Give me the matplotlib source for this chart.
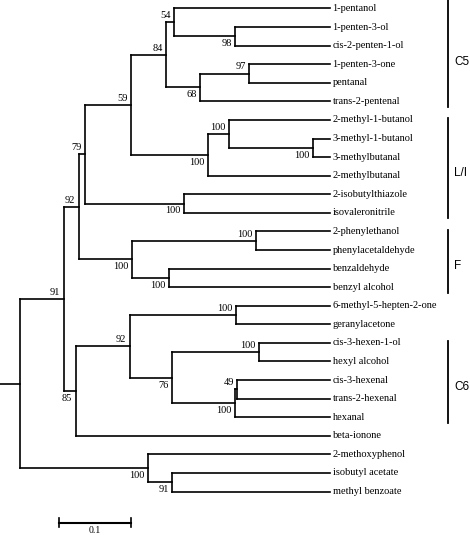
import numpy as np
import matplotlib
matplotlib.use('Agg')
from matplotlib import pyplot as plt

# leaves, top to bottom
leaves = ['1-pentanol', '1-penten-3-ol', 'cis-2-penten-1-ol', '1-penten-3-one',
          'pentanal', 'trans-2-pentenal', '2-methyl-1-butanol', '3-methyl-1-butanol',
          '3-methylbutanal', '2-methylbutanal', '2-isobutylthiazole', 'isovaleronitrile',
          '2-phenylethanol', 'phenylacetaldehyde', 'benzaldehyde', 'benzyl alcohol',
          '6-methyl-5-hepten-2-one', 'geranylacetone', 'cis-3-hexen-1-ol', 'hexyl alcohol',
          'cis-3-hexenal', 'trans-2-hexenal', 'hexanal', 'beta-ionone',
          '2-methoxyphenol', 'isobutyl acetate', 'methyl benzoate']
tip_depth = 0.432

# internal nodes: children (upper, lower), distance from root, bootstrap
node_ids = ['n98', 'n54', 'n97', 'n68', 'n84', 'n313', 'n229', 'n208', 'n59', 'n184',
            'n79', 'nF1', 'nF2', 'nF', 'n92', 'nhept', 'nhexol', 'n49', 'n100b', 'n76',
            'n92b', 'n85', 'n91', 'n91b', 'nog', 'root']
node_children = [
    ('1-penten-3-ol', 'cis-2-penten-1-ol'), ('1-pentanol', 'n98'),
    ('1-penten-3-one', 'pentanal'), ('n97', 'trans-2-pentenal'), ('n54', 'n68'),
    ('3-methyl-1-butanol', '3-methylbutanal'), ('2-methyl-1-butanol', 'n313'),
    ('n229', '2-methylbutanal'), ('n84', 'n208'),
    ('2-isobutylthiazole', 'isovaleronitrile'), ('n59', 'n184'),
    ('2-phenylethanol', 'phenylacetaldehyde'), ('benzaldehyde', 'benzyl alcohol'),
    ('nF1', 'nF2'), ('n79', 'nF'), ('6-methyl-5-hepten-2-one', 'geranylacetone'),
    ('cis-3-hexen-1-ol', 'hexyl alcohol'), ('cis-3-hexenal', 'trans-2-hexenal'),
    ('n49', 'hexanal'), ('nhexol', 'n100b'), ('nhept', 'n76'), ('n92b', 'beta-ionone'),
    ('n92', 'n85'), ('isobutyl acetate', 'methyl benzoate'), ('2-methoxyphenol', 'n91b'),
    ('n91', 'nog')]
node_depth = [0.300, 0.215, 0.320, 0.251, 0.204, 0.409, 0.291, 0.262, 0.155, 0.229,
              0.091, 0.329, 0.208, 0.156, 0.082, 0.301, 0.333, 0.303, 0.300, 0.212,
              0.153, 0.078, 0.061, 0.212, 0.178, 0.0]
node_boot = [98, 54, 97, 68, 84, 100, 100, 100, 59, 100, 79, 100, 100, 100, 92, 100,
             100, 49, 100, 76, 92, 85, 91, 91, 100, None]

# clades marked on the right: name, first leaf, last leaf
clade_names = ['C5', 'L/I', 'F', 'C6']
clade_first = ['1-pentanol', '2-methyl-1-butanol', '2-phenylethanol', 'cis-3-hexen-1-ol']
clade_last = ['trans-2-pentenal', 'isovaleronitrile', 'benzyl alcohol', 'hexanal']

scale_len = 0.1

# positions
xpos = {name: tip_depth for name in leaves}
ypos = {name: i for i, name in enumerate(leaves)}
children = dict(zip(node_ids, node_children))
for nid, d in zip(node_ids, node_depth):
    xpos[nid] = d


def get_y(name):
    if name not in ypos:
        a, b = children[name]
        ypos[name] = (get_y(a) + get_y(b)) / 2
    return ypos[name]


get_y('root')

serif = 'Liberation Serif'
lw = 1.2

fig = plt.figure(figsize=(4.7, 5.35), dpi=100)
ax = fig.add_axes([0, 0, 1, 1])

for nid, (a, b), boot in zip(node_ids, node_children, node_boot):
    x = xpos[nid]
    ax.plot([x, x], [ypos[a], ypos[b]], color='k', lw=lw, solid_capstyle='projecting')
    for c in (a, b):
        ax.plot([x, xpos[c]], [ypos[c], ypos[c]], color='k', lw=lw,
                solid_capstyle='projecting')

# bootstrap labels: above for upper child, below for lower child
parent_side = {}
for a, b in node_children:
    parent_side[a] = 'up'
    parent_side[b] = 'down'
for nid, boot in zip(node_ids, node_boot):
    if boot is None:
        continue
    if parent_side[nid] == 'up':
        ax.annotate(str(boot), (xpos[nid], ypos[nid]), xytext=(-2.5, 1.5),
                    textcoords='offset points', ha='right', va='bottom',
                    fontsize=7.5, family=serif)
    else:
        ax.annotate(str(boot), (xpos[nid], ypos[nid]), xytext=(-2.5, -2),
                    textcoords='offset points', ha='right', va='top',
                    fontsize=7.5, family=serif)

# root stem
ax.plot([-0.03, 0], [ypos['root'], ypos['root']], color='k', lw=lw)

# leaf labels
for name in leaves:
    ax.text(tip_depth + 0.004, ypos[name], name, ha='left', va='center',
            fontsize=7.5, family=serif)

# clade brackets
bx = 0.5965
for cname, f, l in zip(clade_names, clade_first, clade_last):
    y0 = ypos[f] - 0.1
    if f == leaves[0]:
        y0 = -0.5
    y1 = ypos[l] + 0.3
    ax.plot([bx, bx], [y0, y1], color='k', lw=1.3)
    ax.text(bx + 0.009, (ypos[f] + ypos[l]) / 2 + 0.3, cname, ha='left',
            va='center_baseline', fontsize=8.5, family='Liberation Sans')

# scale bar
sy = 27.67
sx0 = 0.0549
ax.plot([sx0, sx0 + scale_len], [sy, sy], color='k', lw=1.5)
for xx in (sx0, sx0 + scale_len):
    ax.plot([xx, xx], [sy - 0.25, sy + 0.25], color='k', lw=1.2)
ax.text(sx0 + scale_len / 2, 28.1, '0.1', ha='center', va='center',
        fontsize=7, family=serif)

ax.set_xlim(-0.0279, 0.6276)
ax.set_ylim(28.34, -0.457)
ax.axis('off')

plt.savefig('out.png', dpi=100)
